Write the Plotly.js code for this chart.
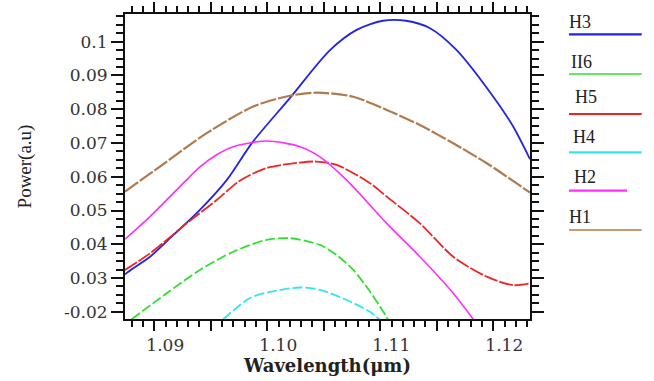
<!DOCTYPE html>
<html>
<head>
<meta charset="utf-8">
<script src="https://cdn.plot.ly/plotly-3.0.1.min.js"></script>
<style>html,body{margin:0;padding:0;background:#fff;}#chart{width:654px;height:381px;}</style>
</head>
<body>
<div id="chart"></div>
<script>
// ---- data ----
const names = ["H3", "II6", "H5", "H4", "H2", "H1"];
const colors = ["#2424e0", "#2ee02e", "#f02424", "#2ee8ee", "#ff2eff", "#b07a4e"];

const h3x = [1.08741, 1.08814, 1.08962, 1.09168, 1.09404, 1.09641, 1.09867, 1.10200, 1.10555, 1.10791, 1.11024, 1.11228, 1.11440, 1.11676, 1.12000, 1.12177, 1.12325];
const h3y = [0.0311, 0.0329, 0.0363, 0.0427, 0.0502, 0.0590, 0.0701, 0.0833, 0.0975, 0.1035, 0.1062, 0.1062, 0.1040, 0.0975, 0.0837, 0.0748, 0.0652];

const h6x = [1.08800, 1.09110, 1.09404, 1.09699, 1.09995, 1.10200, 1.10466, 1.10614, 1.10761, 1.10909, 1.11027, 1.11071];
const h6y = [0.0178, 0.0255, 0.0324, 0.0378, 0.0413, 0.0418, 0.0398, 0.0368, 0.0324, 0.0260, 0.0200, 0.0176];

const h5x = [1.08741, 1.08962, 1.09287, 1.09552, 1.09760, 1.09995, 1.10289, 1.10437, 1.10614, 1.10909, 1.11057, 1.11351, 1.11646, 1.11942, 1.12177, 1.12325];
const h5y = [0.0324, 0.0373, 0.0462, 0.0531, 0.0589, 0.0626, 0.0642, 0.0645, 0.0635, 0.0581, 0.0541, 0.0462, 0.0363, 0.0304, 0.0279, 0.0284];

const h4x = [1.09611, 1.09847, 1.10024, 1.10289, 1.10466, 1.10703, 1.10909, 1.10997];
const h4y = [0.0178, 0.0241, 0.0259, 0.0272, 0.0265, 0.0235, 0.0200, 0.0176];

const h2x = [1.08741, 1.08962, 1.09257, 1.09404, 1.09552, 1.09699, 1.09995, 1.10289, 1.10466, 1.10703, 1.11057, 1.11351, 1.11646, 1.11823];
const h2y = [0.0415, 0.0482, 0.0581, 0.0629, 0.0665, 0.0689, 0.0706, 0.0689, 0.0659, 0.0590, 0.0462, 0.0363, 0.0255, 0.0178];

const h1x = [1.08741, 1.09050, 1.09464, 1.09876, 1.10200, 1.10437, 1.10761, 1.11057, 1.11351, 1.11646, 1.11942, 1.12325];
const h1y = [0.0556, 0.0630, 0.0729, 0.0808, 0.0840, 0.0849, 0.0837, 0.0798, 0.0753, 0.0699, 0.0640, 0.0553];

const xTickVals = [1.09, 1.095, 1.10, 1.105, 1.11, 1.115, 1.12];
const xTickText = ["1.09", "", "1.10", "", "1.11", "", "1.12"];
const yTickVals = [0.02, 0.03, 0.04, 0.05, 0.06, 0.07, 0.08, 0.09, 0.1];
const yTickText = ["-0.02", "0.03", "0.04", "0.05", "0.06", "0.07", "0.08", "0.09", "0.1"];

// ---- traces ----
const xs = [h3x, h6x, h5x, h4x, h2x, h1x];
const ys = [h3y, h6y, h5y, h4y, h2y, h1y];
const dashes = ["solid", "10px,3px", "14px,2px", "10px,3px", "solid", "16px,2px"];
const widths = [1.8, 1.8, 1.8, 1.8, 1.6, 2.2];

const traces = names.map((n, i) => ({
  type: "scatter", mode: "lines", name: n,
  x: xs[i], y: ys[i],
  line: {color: colors[i], width: widths[i], dash: dashes[i], shape: "spline", smoothing: 0.8},
  showlegend: false, hoverinfo: "skip"
}));

// ---- custom legend (label above a line segment), placed in paper coords ----
const plotL = 125, plotR = 530, plotT = 14, plotB = 319;
const px2x = p => (p - plotL) / (plotR - plotL);
const px2y = p => (plotB - p) / (plotB - plotT);
const legTextX = [566.7, 569, 573, 571, 571.7, 566.7];
const legTextY = [22, 62, 97, 137, 177, 217];
const legLineY = [34.3, 74, 114, 152.3, 190.7, 230];
const legLineEnd = [641.7, 641.7, 641.7, 641.7, 627, 641.7];

const serif = "'Liberation Serif', 'Times New Roman', serif";
const wideSerif = "'DejaVu Serif', 'Liberation Serif', serif";

const annotations = names.map((n, i) => ({
  xref: "paper", yref: "paper", x: px2x(legTextX[i]), y: px2y(legTextY[i]),
  xanchor: "left", yanchor: "middle", showarrow: false, text: n,
  font: {family: serif, size: 18, color: "#222"}
}));
const shapes = names.map((n, i) => ({
  type: "line", xref: "paper", yref: "paper",
  x0: px2x(569), x1: px2x(legLineEnd[i]), y0: px2y(legLineY[i]), y1: px2y(legLineY[i]),
  line: {color: colors[i], width: (i === 5 || i === 1) ? 1.6 : 2.2}
}));

const tickFont = {family: wideSerif, size: 17, color: "#333"};

const layout = {
  width: 654, height: 381,
  margin: {l: plotL, r: 654 - plotR, t: plotT, b: 381 - plotB},
  paper_bgcolor: "#fff", plot_bgcolor: "#fff",
  showlegend: false,
  xaxis: {
    range: [1.08741, 1.12325], showgrid: false, zeroline: false,
    showline: true, linecolor: "#111", linewidth: 2, mirror: "ticks",
    ticks: "outside", ticklen: 10, tickwidth: 2, tickcolor: "#111",
    tickvals: xTickVals, ticktext: xTickText, tickfont: tickFont,
    ticklabelshift: 11,
    minor: {ticks: "outside", ticklen: 6, tickwidth: 2, tickcolor: "#111", dtick: 0.001, tick0: 1.09, showgrid: false},
    automargin: "bottom",
    title: {text: "Wavelength(μm)", font: {family: wideSerif, size: 18, color: "#222", weight: "bold"}, standoff: 2}
  },
  yaxis: {
    range: [0.01787, 0.1082], showgrid: false, zeroline: false,
    showline: true, linecolor: "#111", linewidth: 2, mirror: "ticks",
    ticks: "outside", ticklen: 12, tickwidth: 2, tickcolor: "#111",
    tickvals: yTickVals, ticktext: yTickText, tickfont: tickFont,
    minor: {ticks: "outside", ticklen: 7, tickwidth: 2, tickcolor: "#111", dtick: 0.0025, tick0: 0.02, showgrid: false},
    automargin: "left",
    title: {text: "Power(a.u)", font: {family: serif, size: 19, color: "#222"}, standoff: 27}
  },
  annotations: annotations,
  shapes: shapes
};

Plotly.newPlot("chart", traces, layout, {staticPlot: true, displayModeBar: false});
</script>
</body>
</html>
